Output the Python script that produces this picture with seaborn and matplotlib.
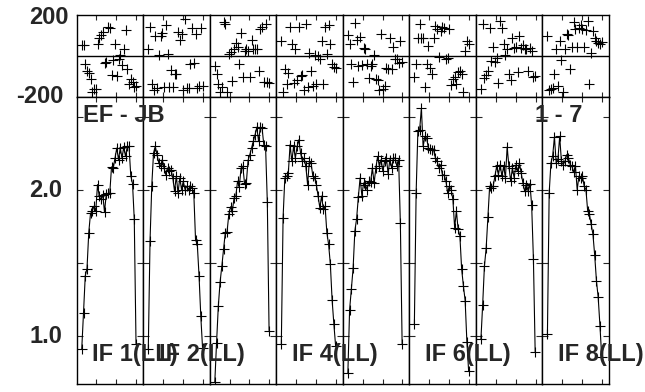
import numpy as np
import matplotlib.pyplot as plt
import seaborn as sns

# channel numbers within one IF
channels = np.arange(1, 33)

# amplitude per channel, one list per IF
amp_if1 = [0.909, 1.155, 1.409, 1.459, 1.705, 1.836, 1.852, 1.886, 1.852, 2.034, 1.955, 1.932, 1.966, 1.845, 1.970, 1.973,
           1.973, 2.155, 2.148, 2.216, 2.284, 2.205, 2.284, 2.216, 2.291, 2.227, 2.295, 2.295, 2.095, 2.041, 1.795, 0.943]
amp_if2 = [0.905, 1.648, 2.027, 2.25, 2.295, 2.239, 2.182, 2.159, 2.205, 2.148, 2.102, 2.148, 2.125, 2.136, 2.08, 1.989,
           2.091, 1.977, 2.08, 2.0, 2.057, 2.0, 2.023, 2.0, 2.023, 2.011, 1.977, 1.655, 1.625, 1.409, 1.132, 0.916]
amp_if3 = [0.682, 0.95, 1.2, 1.364, 1.473, 1.591, 1.705, 1.71, 1.83, 1.882, 1.85, 1.943, 1.955, 2.057, 2.02, 2.148,
           2.16, 2.041, 2.045, 2.2, 2.239, 2.284, 2.33, 2.375, 2.427, 2.33, 2.427, 2.42, 2.307, 2.295, 1.914, 1.034]
amp_if4 = [0.943, 1.807, 2.08, 2.091, 2.114, 2.307, 2.193, 2.295, 2.216, 2.295, 2.341, 2.25, 2.193, 2.216, 2.159, 2.034,
           2.193, 2.182, 2.091, 2.08, 2.034, 1.955, 1.875, 1.955, 1.864, 1.886, 1.705, 1.625, 1.489, 1.245, 1.08, 0.93]
amp_if5 = [0.74, 1.177, 1.318, 1.461, 1.716, 1.8, 1.95, 2.08, 1.959, 2.045, 2.034, 2.0, 2.057, 2.05, 2.148, 2.045,
           2.148, 2.227, 2.159, 2.205, 2.125, 2.193, 2.216, 2.109, 2.205, 2.148, 2.216, 2.216, 2.159, 2.205, 1.768, 0.943]
amp_if6 = [1.08, 1.977, 2.402, 2.409, 2.557, 2.295, 2.364, 2.352, 2.284, 2.277, 2.273, 2.27, 2.216, 2.193, 2.148, 2.17,
           2.102, 2.10, 2.06, 1.977, 2.023, 2.0, 1.932, 1.739, 1.852, 1.727, 1.682, 1.455, 1.341, 1.239, 0.955, 0.755]
amp_if7 = [0.973, 1.209, 1.473, 1.598, 1.811, 2.023, 2.011, 2.023, 2.091, 2.159, 2.102, 2.17, 2.091, 2.159, 2.08, 2.291,
           2.159, 2.057, 2.148, 2.08, 2.17, 2.125, 2.182, 2.114, 2.045, 1.989, 2.034, 1.989, 2.041, 1.891, 1.523, 0.886]
amp_if8 = [1.011, 1.977, 2.182, 2.232, 2.359, 2.182, 2.209, 2.364, 2.193, 2.17, 2.193, 2.239, 2.216, 2.17, 2.159, 2.12,
           2.159, 2.0, 2.091, 2.08, 2.091, 2.023, 2.0, 1.852, 1.83, 1.761, 1.693, 1.55, 1.375, 1.261, 1.068, 0.855]

# phase (degrees) per channel, one list per IF
ph_if1 = [52, 52, -38, -75, -82, -111, -176, -163, -160, 60, 85, 101, 118, -33, -29, 142,
          137, -95, -21, 57, -100, -13, 3, -46, 33, 126, -65, -140, -111, -127, -152, -148]
ph_if2 = [33, 142, -140, -168, 98, -157, 3, 98, 114, -152, 150, 7, -152, -70, -152, -87,
          -91, 118, 77, 105, -168, 180, -157, -157, -42, 137, -33, 109, -157, -147, 134, -150]
ph_if3 = [-49, -87, -140, -176, -152, 167, 158, -176, 7, 20, -121, 33, 65, 44, -42, 114,
          -103, 23, 33, 23, -103, 77, 33, 33, 33, -75, 131, 142, -127, 154, -127, -131]
ph_if4 = [72, -176, -65, -140, -82, 142, 60, -131, 33, -119, 142, -98, -95, -168, 154, -152,
          16, -75, -147, 3, -140, 0, -16, 72, -140, 142, 7, 150, 56, -42, -54, -60]
ph_if5 = [101, 60, -42, -127, 163, 80, -49, 93, -46, 39, 33, -42, -108, -50, -42, 3,
          -111, -119, -168, 109, -160, -150, -59, -65, 88, -65, 44, -13, -16, -33, 72, -30]
ph_if6 = [-103, -42, 85, 154, 88, 88, -152, -42, 49, -59, -87, 85, 147, 131, -5, 121,
          142, 134, -13, -10, 131, -144, -111, -103, -140, -78, -75, -91, -176, 23, 72, 60]
ph_if7 = [-163, 154, -108, -95, -75, 137, -26, 44, -29, -10, -131, 170, 137, 60, 3, 33,
          -91, -119, 88, 39, 44, -78, 98, 36, 52, 33, 33, -75, 39, 25, -103, -100]
ph_if8 = [98, -168, -163, -157, -87, 33, -147, 72, -21, -176, 33, 105, 100, -65, 44, 167,
          131, 44, 134, 150, 131, 44, 126, 170, -136, 16, 121, 88, 72, 65, 60, 70]

amps = [amp_if1, amp_if2, amp_if3, amp_if4, amp_if5, amp_if6, amp_if7, amp_if8]
phases = [ph_if1, ph_if2, ph_if3, ph_if4, ph_if5, ph_if6, ph_if7, ph_if8]
if_labels = ['IF 1(LL)', 'IF 2(LL)', '', 'IF 4(LL)', '', 'IF 6(LL)', '', 'IF 8(LL)']
baseline_label = 'EF - JB'
time_label = '1 - 7'

sns.set_style('ticks')
plt.rcParams['font.family'] = ['Liberation Sans', 'DejaVu Sans']
plt.rcParams['font.weight'] = 'bold'
plt.rcParams['axes.linewidth'] = 1.0

W, H = 645, 392
fig = plt.figure(figsize=(W / 100, H / 100), dpi=100)
gs = fig.add_gridspec(2, 8, left=76.5 / W, right=608.7 / W, top=1 - 15 / H, bottom=1 - 384 / H,
                      hspace=0, wspace=0, height_ratios=[81.7, 287.3])

xticks = [9.4, 20.8, 32.2]
fs = 17

for i in range(8):
    axp = fig.add_subplot(gs[0, i])
    axa = fig.add_subplot(gs[1, i])

    # phase panel
    sns.scatterplot(x=channels, y=phases[i], ax=axp, marker='+', color='black', s=45,
                    linewidth=0.8, legend=False)
    axp.axhline(0, color='black', lw=1.0)
    axp.set_xlim(-2, 36)
    axp.set_ylim(-200, 200)
    axp.set_xticks(xticks)
    axp.set_yticks([])
    axp.tick_params(axis='x', direction='in', top=True, bottom=True, length=3.5, width=0.8,
                    labelbottom=False)
    axp.set_xlabel('')
    axp.set_ylabel('')

    # amplitude panel
    sns.lineplot(x=channels, y=amps[i], ax=axa, color='black', linewidth=0.8, marker='+',
                 markersize=7, markeredgewidth=0.8, markeredgecolor='black')
    axa.set_xlim(-2, 36)
    axa.set_ylim(0.668, 2.636)
    axa.set_xticks(xticks)
    axa.set_yticks([1.0, 1.5, 2.0, 2.5])
    axa.tick_params(axis='x', direction='in', top=True, bottom=True, length=3.5, width=0.8,
                    labelbottom=False)
    axa.tick_params(axis='y', direction='in', left=True, right=True, length=4.5, width=0.8,
                    labelleft=False)
    axa.set_xlabel('')
    axa.set_ylabel('')

    for sp in list(axp.spines.values()) + list(axa.spines.values()):
        sp.set_visible(True)
        sp.set_color('black')

    if i == 0:
        axp.annotate('200', xy=(0, 200), xycoords=('axes fraction', 'data'), xytext=(-6, -2),
                     textcoords='offset points', ha='right', va='center', fontsize=fs, fontweight='bold')
        axp.annotate('-200', xy=(0, -200), xycoords=('axes fraction', 'data'), xytext=(-9.5, 0),
                     textcoords='offset points', ha='right', va='center', fontsize=fs, fontweight='bold')
        for v, s in [(2.0, '2.0'), (1.0, '1.0')]:
            axa.annotate(s, xy=(0, v), xycoords=('axes fraction', 'data'), xytext=(-10.5, -0.5),
                         textcoords='offset points', ha='right', va='center', fontsize=fs,
                         fontweight='bold')

    if if_labels[i]:
        x0 = axa.get_position().x0
        fig.text(x0 + 15.5 / W, 1 - 355 / H, if_labels[i], ha='left', va='center',
                 fontsize=fs, fontweight='bold', zorder=10)

fig.text(82.7 / W, 1 - 116 / H, baseline_label, ha='left', va='center', fontsize=fs,
         fontweight='bold', zorder=10)
fig.text(535 / W, 1 - 115.5 / H, time_label, ha='left', va='center', fontsize=fs,
         fontweight='bold', zorder=10)

fig.savefig('out.png', dpi=100)
